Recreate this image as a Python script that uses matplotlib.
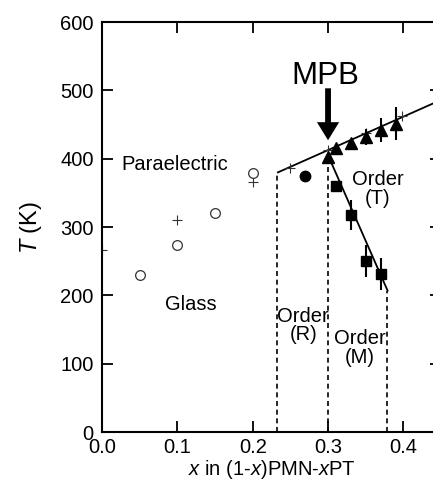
import numpy as np
import matplotlib.pyplot as plt

plt.rcParams['font.family'] = ['Liberation Sans', 'DejaVu Sans']
plt.rcParams['mathtext.fontset'] = 'custom'
plt.rcParams['mathtext.it'] = 'Liberation Sans:italic'
plt.rcParams['mathtext.rm'] = 'Liberation Sans'

# crosses (+)
cross_x = [0.0, 0.1, 0.2, 0.249, 0.30, 0.35, 0.398]
cross_T = [266, 311, 366, 387, 413, 437, 463]

# open circles
open_x = [0.05, 0.1, 0.15, 0.2]
open_T = [230, 274, 320, 379]

# filled circle
fill_x = [0.27]
fill_T = [374]

# triangles (T phase) with error bars
tri_x = [0.30, 0.31, 0.33, 0.35, 0.37, 0.39]
tri_T = [402, 415, 423, 432, 442, 451]
tri_err = [0, 4, 6, 12, 18, 24]

# squares (M phase) with error bars
sq_x = [0.31, 0.33, 0.35, 0.37]
sq_T = [360, 317, 250, 231]
sq_err = [0, 22, 23, 23]

# boundary lines
upper_x = [0.2335, 0.45]
upper_T = [380, 486]
tm_x = [0.30, 0.379]
tm_T = [405, 207]

# dashed phase borders (x, top T)
dash_x = [0.232, 0.300, 0.378]
dash_top = [380, 398, 207]

fig = plt.figure(figsize=(4.33, 4.82), dpi=100)
ax = fig.add_axes([0.2356, 0.1037, 0.783, 0.8506])

ax.plot(upper_x, upper_T, color='black', lw=1.3, zorder=2)
ax.plot(tm_x, tm_T, color='black', lw=1.3, zorder=2)
for xd, td in zip(dash_x, dash_top):
    ax.plot([xd, xd], [0, td], color='black', lw=1.2, ls=(0, (3, 2.2)), zorder=1)

ax.plot(cross_x, cross_T, ls='none', marker='+', ms=7, mew=0.8, color='#333333')
ax.plot(open_x, open_T, ls='none', marker='o', ms=7, mfc='white', mec='#333333', mew=0.9)
ax.plot(fill_x, fill_T, ls='none', marker='o', ms=7.5, color='black')
ax.errorbar(tri_x, tri_T, yerr=tri_err, ls='none', marker='^', ms=8.5,
            color='black', elinewidth=1.5, capsize=0, zorder=3)
ax.errorbar(sq_x, sq_T, yerr=sq_err, ls='none', marker='s', ms=7.5,
            color='black', elinewidth=1.5, capsize=0, zorder=3)

# MPB arrow
ax.annotate('', xy=(0.300, 427), xytext=(0.300, 503),
            arrowprops=dict(arrowstyle='simple,head_length=1.3,head_width=1.6,tail_width=0.42',
                            color='black', lw=0, shrinkA=0, shrinkB=0))
ax.text(0.296, 521, 'MPB', fontsize=22.5, ha='center', va='center')

fs = 14.5
ax.text(0.026, 392, 'Paraelectric', fontsize=fs, ha='left', va='center')
ax.text(0.1185, 186, 'Glass', fontsize=fs, ha='center', va='center')
ax.text(0.366, 356, 'Order\n(T)', fontsize=fs, ha='center', va='center', linespacing=1.0)
ax.text(0.267, 156, 'Order\n(R)', fontsize=fs, ha='center', va='center', linespacing=0.95)
ax.text(0.342, 123, 'Order\n(M)', fontsize=fs, ha='center', va='center', linespacing=0.95)

ax.set_xlim(0, 0.45)
ax.set_ylim(0, 600)
ax.set_xticks([0.0, 0.1, 0.2, 0.3, 0.4])
ax.set_xticklabels(['0.0', '0.1', '0.2', '0.3', '0.4'])
ax.set_yticks([0, 100, 200, 300, 400, 500, 600])
ax.tick_params(direction='in', length=8, width=1.3, labelsize=14.5,
               top=True, right=True)
ax.tick_params(axis='x', pad=4)
ax.tick_params(axis='y', pad=6)
for s in ax.spines.values():
    s.set_linewidth(1.5)

ax.set_xlabel('$x$ in (1-$x$)PMN-$x$PT', fontsize=14.5, labelpad=1)
ax.set_ylabel('$T$ (K)', fontsize=17, labelpad=12)

plt.savefig('out.png', dpi=100)
